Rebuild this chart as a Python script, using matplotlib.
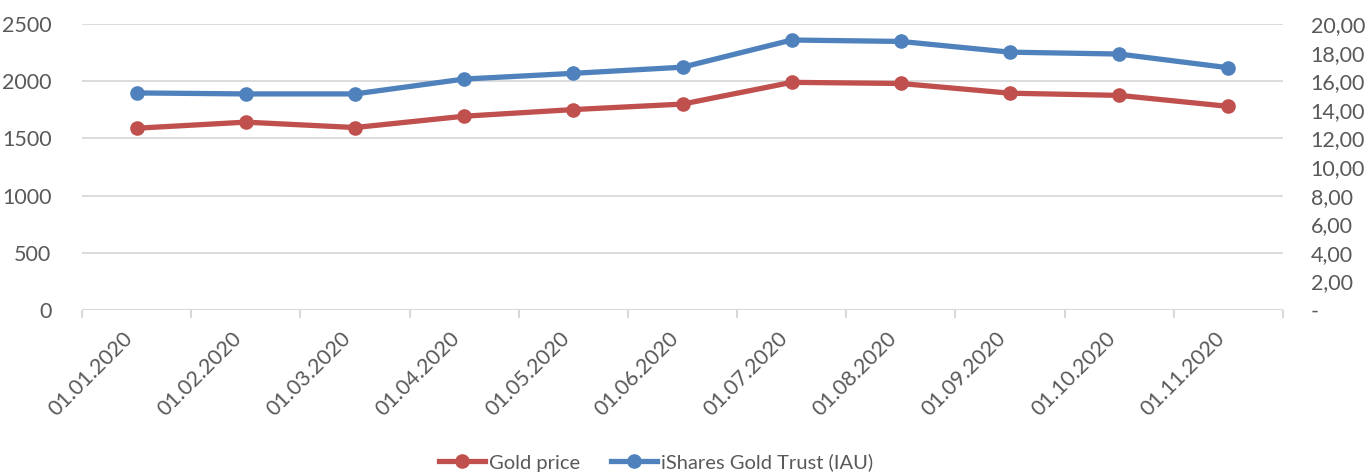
import matplotlib
matplotlib.use("Agg")
import matplotlib.pyplot as plt
import numpy as np

plt.rcParams['font.family'] = ['Lato', 'DejaVu Sans']

dates = ["01.01.2020", "01.02.2020", "01.03.2020", "01.04.2020", "01.05.2020",
         "01.06.2020", "01.07.2020", "01.08.2020", "01.09.2020", "01.10.2020",
         "01.11.2020"]
gold_price = [1589, 1642, 1595, 1694, 1752, 1800, 1990, 1980, 1895, 1876, 1780]
iau_price = [15.18, 15.11, 15.11, 16.15, 16.55, 16.98, 18.88, 18.78, 18.03, 17.90, 16.94]

left_ticks = [0, 500, 1000, 1500, 2000, 2500]
right_ticks = [0, 2, 4, 6, 8, 10, 12, 14, 16, 18, 20]

red = "#C0504D"
blue = "#4F81BD"
txt = "#595959"
grid = "#D9D9D9"

fig = plt.figure(figsize=(13.69, 4.72), dpi=100)
ax = fig.add_axes([82/1369, 1-310/472, (1283-82)/1369, (310-24)/472])
ax2 = ax.twinx()

x = np.arange(len(dates))
l1, = ax.plot(x, gold_price, color=red, lw=3.8, marker="o", ms=9.5, label="Gold price")
l2, = ax2.plot(x, iau_price, color=blue, lw=3.8, marker="o", ms=9.5, label="iShares Gold Trust (IAU)")

ax.set_xlim(-0.5, len(dates) - 0.5)
ax.set_ylim(0, 2500)
ax2.set_ylim(0, 20)
ax.set_yticks(left_ticks)
ax.set_yticklabels([str(v) for v in left_ticks])
ax2.set_yticks(right_ticks)
ax2.set_yticklabels(["-"] + [f"{v},00" for v in right_ticks[1:]])

for a in (ax, ax2):
    for s in a.spines.values():
        s.set_visible(False)
ax.yaxis.grid(True, color=grid, lw=1.3)
ax.set_axisbelow(True)
ax.axhline(0, color=grid, lw=1.5, zorder=1)

ax.tick_params(axis="y", length=0, pad=22, labelsize=15.5, labelcolor=txt)
ax2.tick_params(axis="y", length=0, pad=20, labelsize=15.5, labelcolor=txt)
for lab in ax2.get_yticklabels():
    lab.set_horizontalalignment("left")

# category labels centered, tick marks between categories
ax.set_xticks(x)
ax.set_xticklabels(dates, rotation=45, ha="right", va="top")
ax.tick_params(axis="x", length=0, pad=13, labelsize=15.5, labelcolor=txt)
ax.set_xticks(np.arange(-0.5, len(dates)), minor=True)
ax.tick_params(axis="x", which="minor", length=6, width=1.5, color=grid)

fig.legend([l1, l2], ["Gold price", "iShares Gold Trust (IAU)"], loc="center",
           bbox_to_anchor=(656/1369, 0.02), ncol=2, frameon=False, fontsize=14.5,
           labelcolor=txt, handlelength=2.3, handletextpad=0.2, columnspacing=1.5)

fig.savefig("out.png", dpi=100)
